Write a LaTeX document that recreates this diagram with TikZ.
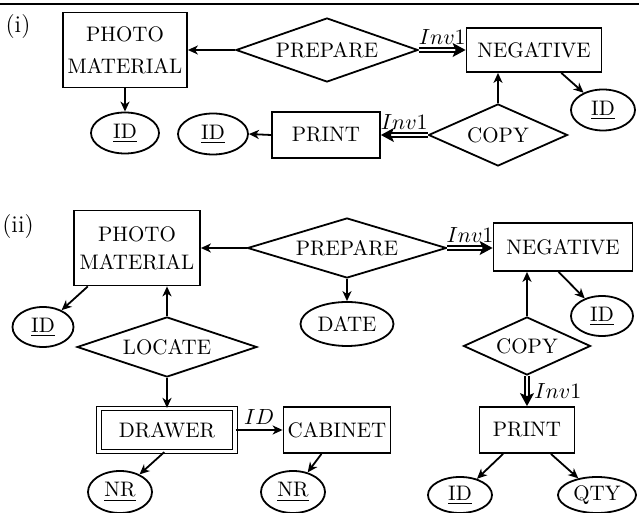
\documentclass[tikz,border=0pt]{standalone}
\usetikzlibrary{shapes.geometric,arrows.meta}
\tikzset{
  ent/.style={draw,rectangle,align=center,inner sep=1pt},
  rel/.style={draw,diamond,shape aspect=3,inner sep=0pt},
  att/.style={draw,ellipse,inner sep=0pt,minimum width=32pt,minimum height=20.5pt},
  link/.style={-{Stealth[length=5pt,width=4.5pt,inset=1.5pt]}},
  invlink/.style={double,double distance=1.4pt,line width=0.7pt,-{Stealth[length=6.5pt,width=7pt,inset=1.5pt]}}
}
\begin{document}
\begin{tikzpicture}[x=0.5pt,y=-0.5pt,line width=0.9pt,font=\fontsize{10.5}{14}\selectfont]
  \useasboundingbox (0,0) rectangle (639,513);
  \draw[line width=1pt] (0,4) -- (639,4);

  \node [font=\fontsize{12}{14}\selectfont] (lbl1) at (18,27) {(i)};
  \node [ent,minimum width=62pt,minimum height=37.5pt] (pm1) at (125,50) {PHOTO\\[2pt]MATERIAL};
  \node [rel,minimum width=91pt,minimum height=32pt] (prep1) at (327,50) {PREPARE};
  \node [ent,minimum width=67.5pt,minimum height=22pt] (neg1) at (534,50) {NEGATIVE};
  \node [att] (negid1) at (603,110) {\underline{ID}};
  \node [rel,minimum width=69.5pt,minimum height=31pt] (copy1) at (498,135) {COPY};
  \node [ent,minimum width=54pt,minimum height=23pt] (print1) at (326,135) {PRINT};
  \node [att,minimum width=35pt] (printid1) at (213,134) {\underline{ID}};
  \node [att,minimum width=34pt] (pmid1) at (125,133) {\underline{ID}};

  \draw [link] (prep1.west) -- (pm1.east);
  \draw [invlink] (prep1.east) -- node[above=-1pt] {$Inv1$} (neg1.west);
  \draw [link] (pm1.south) -- (pmid1.north);
  \draw [link] (neg1.-40) -- (negid1);
  \draw [link] (copy1.north) -- (copy1.north |- neg1.south);
  \draw [invlink] (copy1.west) -- node[above=-1pt] {$Inv1$} (print1.east);
  \draw [link] (print1.west) -- (printid1.east);

  \node [font=\fontsize{12}{14}\selectfont] (lbl2) at (18,227) {(ii)};
  \node [ent,minimum width=63pt,minimum height=37.5pt] (pm2) at (137,248) {PHOTO\\MATERIAL};
  \node [rel,minimum width=99.5pt,minimum height=30pt] (prep2) at (347,248) {PREPARE};
  \node [ent,minimum width=69.5pt,minimum height=24pt] (neg2) at (563,247) {NEGATIVE};
  \node [att,minimum width=46.5pt,minimum height=22pt] (date) at (347,324) {DATE};
  \node [att,minimum width=31pt,minimum height=20pt] (negid2) at (602,316) {\underline{ID}};
  \node [rel,minimum width=63.5pt,minimum height=29pt] (copy2) at (527,346) {COPY};
  \node [ent,minimum width=47.5pt,minimum height=23pt] (print2) at (527,430) {PRINT};
  \node [att,minimum height=18pt] (printid2) at (460,495) {\underline{ID}};
  \node [att,minimum width=39pt,minimum height=18pt] (qty) at (597,495) {QTY};
  \node [rel,minimum width=90pt,minimum height=30pt] (loc) at (167,347) {LOCATE};
  \node [att,minimum width=30.5pt,minimum height=20pt] (pmid2) at (43,327) {\underline{ID}};
  \node [ent,double,double distance=1.6pt,line width=0.6pt,minimum width=68pt,minimum height=21.5pt] (drawer) at (167,430) {DRAWER};
  \node [ent,minimum width=53.5pt,minimum height=23pt] (cabinet) at (337,430) {CABINET};
  \node [att,minimum height=21pt] (nr1) at (120,492) {\underline{NR}};
  \node [att,minimum height=21pt] (nr2) at (293,492) {\underline{NR}};

  \draw [link] (prep2.west) -- (prep2.west -| pm2.east);
  \draw [invlink] (prep2.east) -- node[above=-1pt] {$Inv1$} (prep2.east -| neg2.west);
  \draw [link] (prep2.south) -- (date.north);
  \draw [link] (neg2.-100) -- (negid2);
  \draw [link] (copy2.north) -- (copy2.north |- neg2.south);
  \draw [invlink] (copy2.south) -- node[right] {$Inv1$} (print2.north);
  \draw [link] (print2.-135) -- (printid2);
  \draw [link] (print2.-45) -- (qty);
  \draw [link] (loc.north) -- (loc.north |- pm2.south);
  \draw [link] (loc.south) -- (drawer.north);
  \draw [link] (pm2.-142) -- (pmid2);
  \draw [link] (drawer.east) -- node[above=-1pt] {$ID$} (cabinet.west);
  \draw [link] (drawer.-97) -- (nr1);
  \draw [link] (cabinet.-123) -- (nr2);
\end{tikzpicture}
\end{document}
